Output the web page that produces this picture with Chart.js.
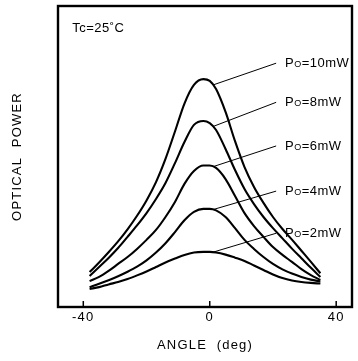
<!DOCTYPE html>
<html>
<head>
<meta charset="utf-8">
<title>Optical power vs angle</title>
<script src="https://cdn.jsdelivr.net/npm/chart.js@4.4.0/dist/chart.umd.min.js"></script>
<style>
  html, body { margin: 0; padding: 0; background: #fff; }
  #myChart { display: block; }
</style>
</head>
<body>
<canvas id="myChart" width="358" height="361"></canvas>
<script>
"use strict"

// ANGLE VALUES (deg)
const angles = [-38, -35, -32, -29, -26, -23, -20, -17, -14, -11, -8, -5, -2, 0, 2, 5, 8, 11, 14, 17, 20, 23, 26, 29, 32, 35];

// OPTICAL POWER (arb. units)
const power10mW = [11.6, 14.8, 18.2, 21.8, 25.8, 30.3, 35.4, 41.5, 49.2, 58.3, 67.6, 73.8, 75.7, 75.1, 72.4, 64.8, 55.1, 46.5, 39.9, 34.6, 29.9, 25.9, 22.4, 18.7, 15.0, 11.2];
const power8mW = [10.3, 13.3, 16.3, 19.6, 23.3, 27.1, 31.2, 35.9, 41.2, 47.8, 54.8, 60.5, 61.8, 61.1, 58.8, 52.5, 45.5, 39.2, 34.2, 29.9, 26.2, 22.8, 19.4, 16.2, 13.0, 10.0];
const power6mW = [8.6, 10.0, 12.0, 14.3, 16.6, 19.3, 22.3, 25.6, 29.9, 34.9, 40.9, 45.2, 47.0, 47.0, 46.2, 42.5, 36.9, 31.2, 26.9, 23.3, 19.9, 17.3, 15.0, 12.6, 10.6, 9.0];
const power4mW = [6.6, 7.7, 8.9, 10.2, 11.7, 13.4, 15.5, 18.1, 21.2, 24.9, 28.8, 31.6, 32.6, 32.6, 32.1, 29.9, 26.2, 22.3, 19.3, 16.6, 14.3, 12.5, 11.1, 10.0, 9.1, 8.5];
const power2mW = [6.0, 6.6, 7.5, 8.3, 9.3, 10.5, 11.8, 13.3, 14.8, 16.1, 17.3, 18.1, 18.3, 18.3, 18.1, 17.4, 16.4, 15.3, 13.8, 12.3, 10.8, 9.6, 8.8, 8.3, 8.0, 7.8];

const seriesNames = ['10mW', '8mW', '6mW', '4mW', '2mW'];
const seriesValues = [power10mW, power8mW, power6mW, power4mW, power2mW];

// WHERE THE LEADER LINES END (value axis) AND TICKS
const labelEndY = [81, 68, 53.5, 38.5, 24.5];
const xTicks = [-40, 0, 40];

const FONT = '"Liberation Sans", Arial, sans-serif';

// LEADER LINES, LABELS, BOX AND INWARD TICKS
const annotate = {
    id: 'annotate',
    beforeDraw(chart) {
        chart.ctx.letterSpacing = '1.2px';
    },
    afterDatasetsDraw(chart) {
        const ctx = chart.ctx;
        const xs = chart.scales.x;
        const ys = chart.scales.y;
        ctx.save();
        ctx.strokeStyle = '#000';
        ctx.fillStyle = '#000';
        ctx.lineWidth = 1;
        ctx.letterSpacing = '0.5px';
        ctx.textBaseline = 'middle';
        seriesNames.forEach((name, i) => {
            // start half way between the points at 0 and 2 deg
            let pts = chart.getDatasetMeta(i).data;
            let sx = (pts[13].x + pts[14].x) / 2;
            let sy = (pts[13].y + pts[14].y) / 2;
            let ex = xs.getPixelForValue(21);
            let ey = ys.getPixelForValue(labelEndY[i]);
            ctx.beginPath();
            ctx.moveTo(sx, sy);
            ctx.lineTo(ex, ey);
            ctx.stroke();

            let tx = xs.getPixelForValue(23.8);
            ctx.font = '13px ' + FONT;
            ctx.fillText('P', tx, ey);
            tx += ctx.measureText('P').width;
            ctx.font = '9px ' + FONT;
            ctx.fillText('O', tx, ey + 1.5);
            tx += ctx.measureText('O').width;
            ctx.font = '13px ' + FONT;
            ctx.fillText('=' + name, tx, ey);
        });

        // Tc LABEL
        ctx.font = '13px ' + FONT;
        ctx.fillText('Tc=25\u02DAC', xs.getPixelForValue(-43.5), ys.getPixelForValue(92.7));
        ctx.restore();
    },
    afterDraw(chart) {
        const ctx = chart.ctx;
        const a = chart.chartArea;
        const xs = chart.scales.x;
        ctx.save();
        ctx.strokeStyle = '#000';
        ctx.lineWidth = 2.4;
        ctx.strokeRect(a.left, a.top, a.right - a.left, a.bottom - a.top);
        ctx.lineWidth = 1.5;
        xTicks.forEach(v => {
            let px = xs.getPixelForValue(v);
            ctx.beginPath();
            ctx.moveTo(px, a.bottom);
            ctx.lineTo(px, a.bottom - 6);
            ctx.stroke();
        });
        ctx.restore();
    }
};

// DATA OF THE CHART
const data = {
    datasets: seriesValues.map((vals, i) => ({
        label: 'Po=' + seriesNames[i],
        data: vals.map((v, k) => ({ x: angles[k], y: v })),
        borderColor: '#000',
        borderWidth: 2.1,
        pointRadius: 0,
        fill: false,
        cubicInterpolationMode: 'monotone'
    }))
};

// CONFIG OF THE CHART
const config = {
    type: 'line',
    data: data,
    options: {
        responsive: false,
        animation: false,
        devicePixelRatio: 1,
        layout: { padding: { top: 6, right: 6, left: 0, bottom: 0 } },
        plugins: {
            legend: { display: false },
            tooltip: { enabled: false }
        },
        scales: {
            x: {
                type: 'linear',
                min: -48,
                max: 45,
                afterBuildTicks: s => { s.ticks = xTicks.map(v => ({ value: v })); },
                afterFit: s => { s.height = 54; },
                grid: { display: false, drawTicks: false },
                border: { display: false },
                ticks: { color: '#000', padding: 3, font: { family: FONT, size: 13 } },
                title: {
                    display: true,
                    text: 'ANGLE  (deg)',
                    color: '#000',
                    padding: { top: 0, bottom: 8 },
                    font: { family: FONT, size: 13 }
                }
            },
            y: {
                min: 0,
                max: 100,
                afterFit: s => { s.width = 58; },
                grid: { display: false, drawTicks: false },
                border: { display: false },
                ticks: { display: false },
                title: {
                    display: true,
                    text: 'OPTICAL  POWER',
                    color: '#000',
                    padding: { top: 10, bottom: 0 },
                    font: { family: FONT, size: 13 }
                }
            }
        }
    },
    plugins: [annotate]
};

//  initialize Chart
const myChart = new Chart(document.getElementById('myChart'), config);
</script>
</body>
</html>
